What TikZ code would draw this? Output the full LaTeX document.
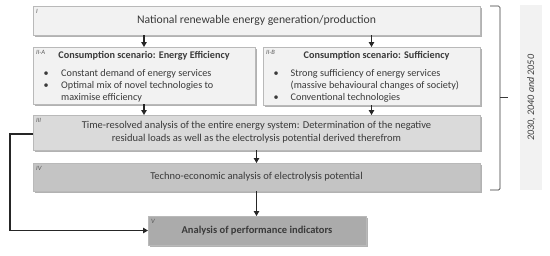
\documentclass[tikz,border=0pt]{standalone}
\usepackage{fontspec}
\setmainfont{Carlito}
\usetikzlibrary{arrows.meta,shadows}
\definecolor{txtgray}{HTML}{3A3A3A}
\definecolor{taggray}{HTML}{595959}
\definecolor{linegray}{HTML}{262626}
\definecolor{fillI}{HTML}{F2F2F2}
\definecolor{fillIII}{HTML}{DADADA}
\definecolor{fillIV}{HTML}{C4C4C4}
\definecolor{fillV}{HTML}{ABABAB}
\tikzset{
  stagebox/.style={draw=gray!55, line width=0.5pt, anchor=north west, inner sep=0pt, outer sep=0pt,
    text=txtgray, font=\fontsize{10.5}{13}\selectfont, align=center,
    drop shadow={shadow xshift=1.8pt, shadow yshift=-1.8pt, opacity=0.3, fill=black}},
  tag/.style={anchor=north west, inner sep=0pt, text=taggray, font=\fontsize{6.5}{7}\selectfont\itshape},
  boxtitle/.style={inner sep=0pt, text=txtgray, font=\fontsize{10.2}{12}\selectfont\bfseries},
  bullets/.style={anchor=base west, inner sep=0pt, text=txtgray, font=\fontsize{10.2}{12}\selectfont},
  flow/.style={draw=linegray, line width=1.5pt, -{Triangle[length=5pt,width=5.5pt]}}
}
\newcommand\bl{\textbullet}
\begin{document}
\begin{tikzpicture}[x=1pt,y=-1pt]
  \useasboundingbox (0,0) rectangle (550,255);

  % stages
  \node[stagebox, fill=fillI, minimum width=447pt, minimum height=29pt,
    font=\fontsize{11.7}{14}\selectfont] (I) at (33,6)
    {National renewable energy generation/production};
  \node[stagebox, fill=fillI, minimum width=222pt, minimum height=57pt] (IIA) at (33,47) {};
  \node[stagebox, fill=fillI, minimum width=217pt, minimum height=58pt] (IIB) at (263,47) {};
  \node[stagebox, fill=fillIII, minimum width=447pt, minimum height=35pt] (III) at (33,115)
    {Time-resolved analysis of the entire energy system: Determination of the negative\\
     residual loads as well as the electrolysis potential derived therefrom};
  \node[stagebox, fill=fillIV, minimum width=447pt, minimum height=28pt] (IV) at (33,163)
    {Techno-economic analysis of electrolysis potential};
  \node[stagebox, fill=fillV, minimum width=218pt, minimum height=29pt,
    font=\fontsize{10.5}{12}\selectfont\bfseries] (V) at (148,216)
    {Analysis of performance indicators};

  % scenario contents
  \node[boxtitle] (titleA) at (144,56) {Consumption scenario: Energy Efficiency};
  \node[bullets] (listA) at (43.5,76) {\begin{tabular}[t]{@{}p{17.5pt}@{}l@{}}
    \bl & Constant demand of energy services\\
    \bl & Optimal mix of novel technologies to\\
        & maximise efficiency\end{tabular}};
  \node[boxtitle] (titleB) at (376.5,56) {Consumption scenario: Sufficiency};
  \node[bullets] (listB) at (273.5,76) {\begin{tabular}[t]{@{}p{17pt}@{}l@{}}
    \bl & Strong sufficiency of energy services\\
        & (massive behavioural changes of society)\\
    \bl & Conventional technologies\end{tabular}};

  % tags
  \node[tag] (tI) at (36,9) {I};
  \node[tag] (tIIA) at (36,50) {II-A};
  \node[tag] (tIIB) at (266,50) {II-B};
  \node[tag] (tIII) at (36,118) {III};
  \node[tag] (tIV) at (36,166) {IV};
  \node[tag] (tV) at (151,219) {V};

  % flow
  \draw[flow] (I.south -| IIA.north) -- (IIA.north);
  \draw[flow] (I.south -| IIB.north) -- (IIB.north);
  \draw[flow] (IIA.south) -- (IIA.south |- III.north);
  \draw[flow] (IIB.south) -- (IIB.south |- III.north);
  \draw[flow] (III.south) -- (IV.north);
  \draw[flow] (IV.south) -- (IV.south |- V.north);
  \draw[flow] ([yshift=-1.5pt]III.west) -- ++(-23,0) |- (V.west);

  % years
  \draw[txtgray, line width=0.7pt, rounded corners=1.5pt] (490,6) -- (500,6) -- (500,190) -- (490,190);
  \draw[txtgray, line width=0.7pt] (500,97) -- (508,97);
  \node[fill=fillI, minimum width=22pt, minimum height=185pt, inner sep=0pt, anchor=north west] (yrs) at (520,5) {};
  \node[rotate=90, text=txtgray, font=\fontsize{10}{12}\selectfont\itshape] (yrstext) at (yrs.center) {2030, 2040 and 2050};
\end{tikzpicture}
\end{document}
